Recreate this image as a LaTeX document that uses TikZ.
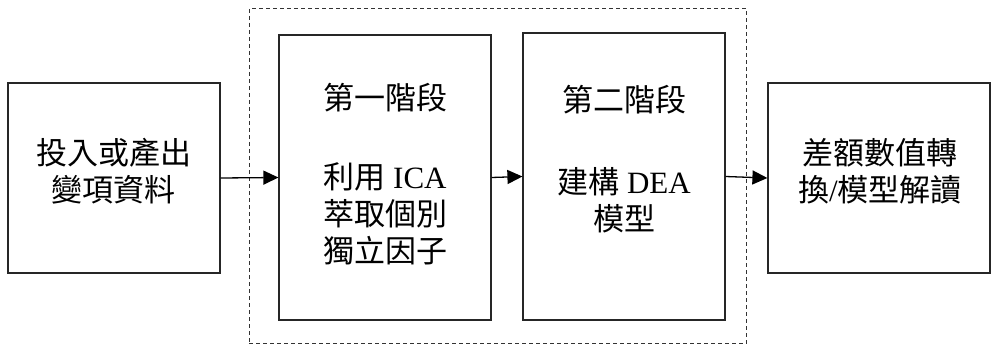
\documentclass[tikz,border=0pt]{standalone}
\usepackage{fontspec}
\setmainfont{Liberation Serif}
\newfontfamily\cjk{Noto Sans CJK TC}
\usetikzlibrary{arrows.meta}
\tikzset{
  box/.style={draw=black!85, line width=1.2pt, inner sep=0pt},
  stagebox/.style={draw=black!80, line width=0.8pt, dash pattern=on 4pt off 3pt, inner sep=0pt},
  txt/.style={align=center, inner sep=0pt, font=\fontsize{31}{37}\selectfont},
  arr/.style={line width=1.3pt, -{Triangle[length=15pt,width=14pt]}}
}
\begin{document}
\begin{tikzpicture}[x=1pt,y=-1pt]
\useasboundingbox (0,0) rectangle (992,345);
% boxes
\node[box, minimum width=212pt, minimum height=190pt] (lb) at (114,178) {};
\node[stagebox, minimum width=497.5pt, minimum height=334.5pt] (stage) at (497.75,175.75) {};
\node[box, minimum width=212pt, minimum height=285pt] (b1) at (385,177.5) {};
\node[box, minimum width=202pt, minimum height=287pt] (b2) at (624,176.5) {};
\node[box, minimum width=222pt, minimum height=190pt] (rb) at (879,178) {};
% texts
\node[txt] (tl) at (113.5,171.5) {{\cjk 投入或產出}\\{\cjk 變項資料}};
\node[txt] (t1) at (385,174) {{\cjk 第一階段}\\[42pt]{\cjk 利用} ICA\\{\cjk 萃取個別}\\{\cjk 獨立因子}};
\node[txt] (t2) at (624,159) {{\cjk 第二階段}\\[45pt]{\cjk 建構} DEA\\{\cjk 模型}};
\node[txt] (tr) at (880,171) {{\cjk 差額數值轉}\\{\cjk 換}/{\cjk 模型解讀}};
% arrows
\draw[arr] (lb.east) -- (b1.west);
\draw[arr] (b1.east) -- (b2.west);
\draw[arr] (b2.east) -- (rb.west);
\end{tikzpicture}
\end{document}
